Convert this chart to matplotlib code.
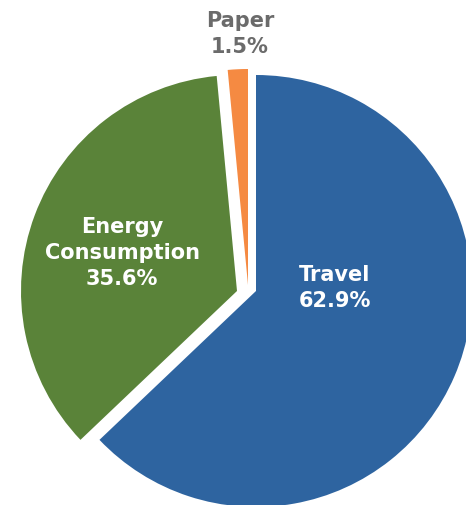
import numpy as np
import matplotlib
matplotlib.use("Agg")
from matplotlib import pyplot as plt

# data
categories = ["Travel", "Energy\nConsumption", "Paper"]
shares = [62.9, 35.6, 1.5]
colors = ["#2E64A0", "#5A8339", "#F58A42"]

W, H = 466, 506
fig = plt.figure(figsize=(W / 100.0, H / 100.0), dpi=100)
ax = fig.add_axes([0, 0, 1, 1])

# pie centre / radius in pixel units (y measured from top)
cx, cy, r = 244, 292, 216
wedges, _ = ax.pie(shares, radius=r, center=(cx, H - cy), startangle=90,
                   counterclock=False, colors=colors,
                   wedgeprops=dict(linewidth=0))

# shift each slice a little, like an exploded pie
shifts = [(12, 0), (-7, 0), (4, 6)]
for w, (dx, dy) in zip(wedges, shifts):
    w.set_center((cx + dx, H - cy + dy))

ax.set_xlim(0, W)
ax.set_ylim(0, H)
ax.set_aspect("equal")
ax.axis("off")

font = dict(family="DejaVu Sans", weight="bold", fontsize=15,
            ha="center", va="center", linespacing=1.4)

# label positions (pixel coords from top-left)
label_pos = [(335, 288), (122, 253), (240, 34)]
label_col = ["white", "white", "#6B6B6B"]
for name, val, (x, y), c in zip(categories, shares, label_pos, label_col):
    ax.text(x, H - y, "%s\n%.1f%%" % (name, val), color=c, **font)

plt.savefig("out.png", dpi=100)
